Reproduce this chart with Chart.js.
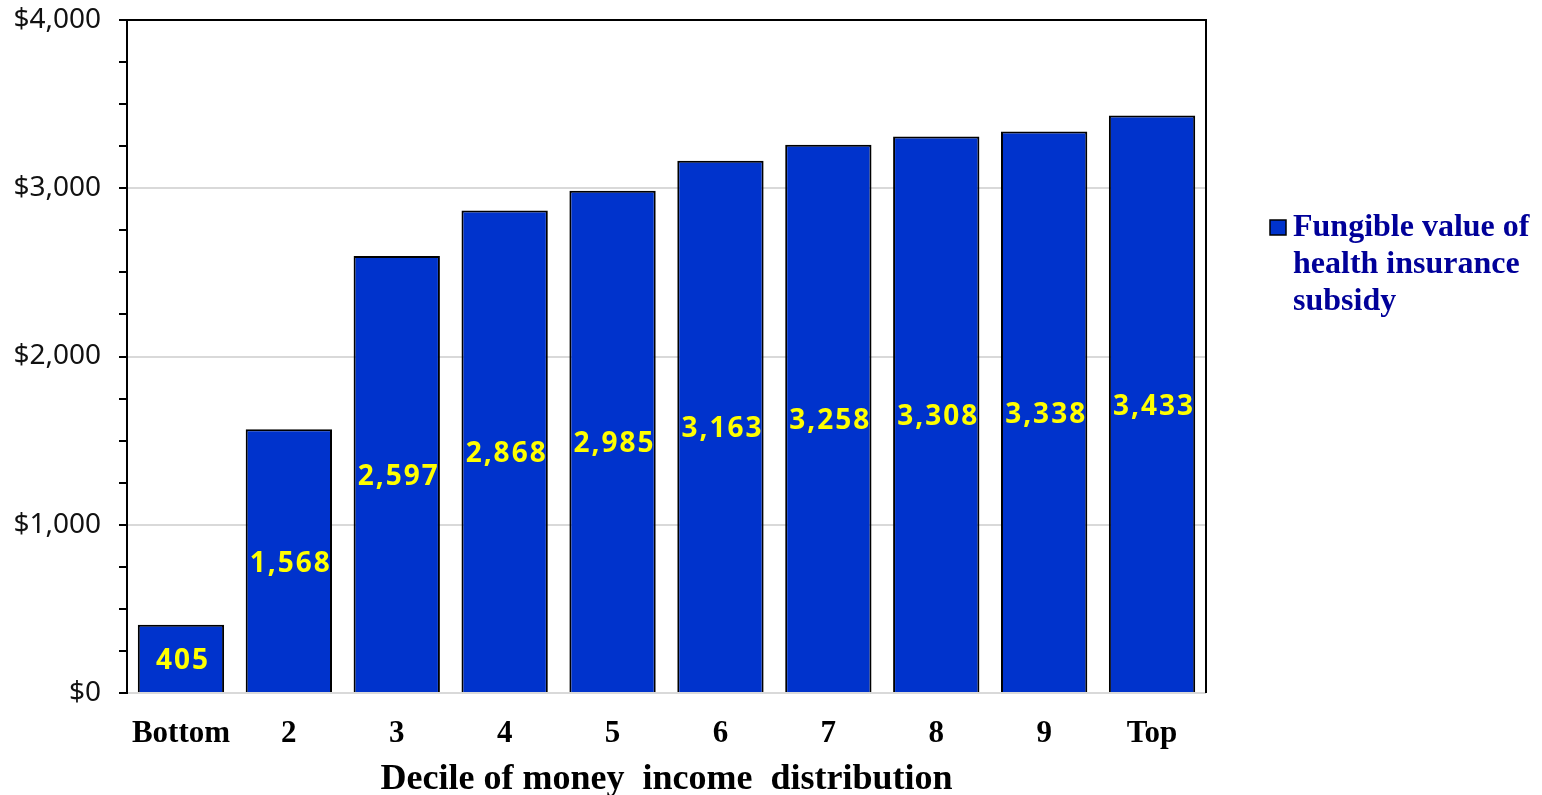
<!DOCTYPE html>
<html>
<head>
<meta charset="utf-8">
<script src="https://cdn.jsdelivr.net/npm/chart.js@4.4.0/dist/chart.umd.min.js"></script>
<style>
  html, body { margin: 0; padding: 0; background: #fff; }
  #wrap { width: 1542px; height: 795px; position: relative; }
</style>
</head>
<body>
<div id="wrap"><canvas id="c" width="1542" height="795"></canvas></div>
<script>
const categories = ['Bottom', '2', '3', '4', '5', '6', '7', '8', '9', 'Top'];
const subsidyValues = [405, 1568, 2597, 2868, 2985, 3163, 3258, 3308, 3338, 3433];
const seriesName = 'Fungible value of health insurance subsidy';
const legendLines = ['Fungible value of', 'health insurance', 'subsidy'];
const xAxisTitle = 'Decile of money  income  distribution';
const yMax = 4000;
const yMajorStep = 1000;
const yMinorStep = 250;

const valueLabels = {
  id: 'valueLabels',
  afterDatasetsDraw(chart) {
    const ctx = chart.ctx;
    const meta = chart.getDatasetMeta(0);
    ctx.save();
    ctx.font = 'bold 28px "Noto Sans", sans-serif';
    ctx.fillStyle = '#FFFF00';
    ctx.textAlign = 'center';
    ctx.textBaseline = 'middle';
    try { ctx.letterSpacing = '2px'; } catch (e) {}
    meta.data.forEach((bar, i) => {
      const v = chart.data.datasets[0].data[i];
      const y = (bar.y + bar.base) / 2;
      ctx.fillText(v.toLocaleString('en-US'), bar.x + 2, y + 3);
    });
    ctx.restore();
  }
};

const frame = {
  id: 'frame',
  afterDraw(chart) {
    const { ctx, chartArea: a } = chart;
    ctx.save();
    ctx.strokeStyle = '#000';
    ctx.lineWidth = 2;
    ctx.beginPath();
    ctx.moveTo(a.left, a.top);
    ctx.lineTo(a.right, a.top);
    ctx.lineTo(a.right, a.bottom);
    ctx.stroke();
    ctx.restore();
  }
};

const sideLegend = {
  id: 'sideLegend',
  afterDraw(chart) {
    const ctx = chart.ctx;
    ctx.save();
    ctx.fillStyle = '#0033CC';
    ctx.fillRect(1270, 220, 16, 15);
    ctx.strokeStyle = '#000';
    ctx.lineWidth = 1.5;
    ctx.strokeRect(1270, 220, 16, 15);
    ctx.fillStyle = '#000099';
    ctx.font = 'bold 32px "Liberation Serif", "Times New Roman", serif';
    ctx.textAlign = 'left';
    ctx.textBaseline = 'middle';
    legendLines.forEach((t, i) => ctx.fillText(t, 1293, 228 + i * 37));
    ctx.restore();
  }
};

new Chart(document.getElementById('c'), {
  type: 'bar',
  data: {
    labels: categories,
    datasets: [{
      label: seriesName,
      data: subsidyValues,
      backgroundColor: '#0033CC',
      borderColor: '#000',
      borderWidth: 2,
      barPercentage: 0.8,
      categoryPercentage: 1.0
    }]
  },
  options: {
    responsive: false,
    animation: false,
    layout: { padding: { top: 20, right: 336, left: 0, bottom: 0 } },
    plugins: {
      legend: { display: false },
      tooltip: { enabled: false }
    },
    scales: {
      x: {
        grid: { display: false, drawTicks: false },
        border: { display: false },
        ticks: {
          color: '#000',
          padding: 22,
          font: { family: '"Liberation Serif", "Times New Roman", serif', size: 31, weight: 'bold' }
        },
        title: {
          display: true,
          text: xAxisTitle,
          color: '#000',
          padding: { top: 0, bottom: -6 },
          font: { family: '"Liberation Serif", "Times New Roman", serif', size: 36, weight: 'bold' }
        },
        afterFit(scale) { scale.height = 102; scale.paddingLeft = 0; scale.paddingRight = 0; }
      },
      y: {
        min: 0,
        max: yMax,
        grid: {
          color: (c) => (c.tick && c.tick.value % yMajorStep === 0 && c.tick.value !== yMax) ? '#d9d9d9' : 'rgba(0,0,0,0)',
          tickColor: '#000',
          lineWidth: 2,
          tickWidth: 2,
          tickLength: 8,
          drawTicks: true
        },
        border: { display: true, color: '#000', width: 2 },
        ticks: {
          stepSize: yMinorStep,
          autoSkip: false,
          color: '#111',
          padding: 18,
          font: { family: '"Noto Sans", sans-serif', size: 28 },
          callback: (v) => (v % yMajorStep === 0) ? '$' + v.toLocaleString('en-US') : ''
        },
        afterFit(scale) { scale.width = 127; scale.paddingTop = 0; scale.paddingBottom = 0; }
      }
    }
  },
  plugins: [valueLabels, frame, sideLegend]
});
</script>
</body>
</html>
